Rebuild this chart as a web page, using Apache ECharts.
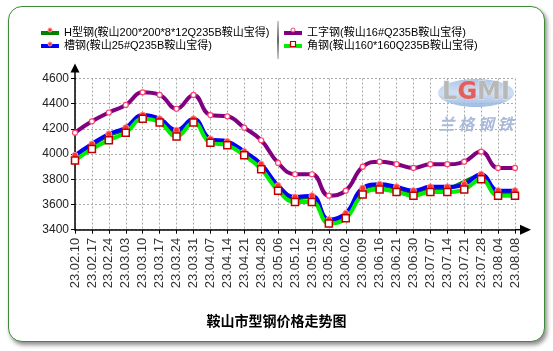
<!DOCTYPE html>
<html><head><meta charset="utf-8">
<script src="https://cdn.jsdelivr.net/npm/echarts@6/dist/echarts.min.js"></script>
<style>
html,body{margin:0;padding:0;background:#fff;width:553px;height:351px;overflow:hidden;}
#frame{position:absolute;left:8px;top:6px;width:535px;height:334px;border:1.5px solid #3d8b37;border-radius:14px;box-shadow:2px 3px 4px rgba(0,0,0,0.45);background:#fff;}
#chart{position:absolute;left:0;top:0;width:553px;height:351px;}
</style></head>
<body>
<div id="frame"></div>
<div id="chart"></div>
<script>
const categories = ['23.02.10','23.02.17','23.02.24','23.03.03','23.03.10','23.03.17','23.03.24','23.03.31','23.04.07','23.04.14','23.04.21','23.04.28','23.05.06','23.05.12','23.05.19','23.05.26','23.06.02','23.06.09','23.06.16','23.06.21','23.06.30','23.07.07','23.07.14','23.07.21','23.07.28','23.08.04','23.08.08'];
const seriesNames = ['H型钢(鞍山200*200*8*12Q235B鞍山宝得)','槽钢(鞍山25#Q235B鞍山宝得)','工字钢(鞍山16#Q235B鞍山宝得)','角钢(鞍山160*160Q235B鞍山宝得)'];
const hBeam   = [3970,4070,4150,4200,4300,4270,4180,4270,4110,4090,4010,3910,3740,3650,3660,3470,3520,3720,3750,3730,3700,3730,3730,3780,3830,3700,3700];
const channel = [3990,4080,4160,4210,4310,4280,4190,4280,4120,4100,4020,3920,3750,3660,3670,3480,3530,3730,3760,3740,3710,3740,3740,3760,3840,3710,3710];
const iBeam   = [4170,4260,4330,4390,4490,4470,4360,4470,4310,4300,4210,4110,3930,3840,3840,3670,3710,3900,3940,3920,3890,3920,3920,3940,4020,3890,3890];
const angle   = [3950,4040,4110,4170,4280,4250,4140,4250,4090,4070,3990,3880,3710,3620,3620,3450,3490,3680,3720,3700,3670,3700,3700,3720,3800,3670,3670];
const yTicks = {min:3400, max:4600, interval:200};

const FONT = '"Liberation Sans","Noto Sans CJK SC",sans-serif';
const lineColors = ['#008000','#0000ff','#800080','#00ee00'];
const chart = echarts.init(document.getElementById('chart'), null, {renderer:'canvas'});

function mk(i, data, symbol, size, fill, border, bw){
  return {
    name:seriesNames[i], type:'line', data, smooth:0.45,
    symbol, symbolSize:size, showSymbol:true,
    lineStyle:{color:lineColors[i], width:4},
    itemStyle:{color:fill, borderColor:border, borderWidth:bw},
    emphasis:{disabled:true}, animation:false
  };
}
function legendItem(i){
  return {name:seriesNames[i], icon:'rect', itemStyle:{color:lineColors[i], borderWidth:0}};
}
const legendText = {fontSize:11, color:'#000', fontFamily:FONT, lineHeight:14};

const option = {
  animation:false,
  backgroundColor:'transparent',
  title:{text:'鞍山市型钢价格走势图', left:'center', top:309,
    textStyle:{fontSize:14, fontWeight:'bold', color:'#000', fontFamily:'"Noto Sans CJK SC",sans-serif'}},
  legend:[
    {data:[legendItem(0), legendItem(1)], left:41, top:26, orient:'vertical', itemGap:-1, padding:0,
     itemWidth:18, itemHeight:4, textStyle:legendText},
    {data:[legendItem(2), legendItem(3)], left:284, top:26, orient:'vertical', itemGap:-1, padding:0,
     itemWidth:18, itemHeight:4, textStyle:legendText}
  ],
  grid:{left:75, right:38, top:78.5, bottom:121.3, containLabel:false},
  xAxis:{type:'category', data:categories, boundaryGap:false,
    axisLine:{show:true, lineStyle:{color:'#000', width:1.5}},
    axisTick:{show:true, length:4, lineStyle:{color:'#000'}},
    axisLabel:{rotate:90, fontSize:13, color:'#333', margin:8, fontFamily:FONT, interval:0},
    splitLine:{show:true, lineStyle:{color:'#aaa', type:[2,2], width:1}}},
  yAxis:{type:'value', min:yTicks.min, max:yTicks.max, interval:yTicks.interval,
    axisLine:{show:true, lineStyle:{color:'#000', width:1.5}},
    axisTick:{show:true, length:4, lineStyle:{color:'#000'}},
    axisLabel:{fontSize:12, color:'#222', margin:6, fontFamily:FONT, formatter:function(v){return String(v);}},
    splitLine:{show:true, lineStyle:{color:'#aaa', type:[2,2], width:1}}},
  series:[
    mk(0, hBeam, 'triangle', 6, '#ff2020', '#ff8080', 1),
    mk(1, channel, 'circle', 6, '#ff3030', '#ff9090', 1),
    mk(2, iBeam, 'circle', 5, '#ffffff', '#ff4070', 1.2),
    mk(3, angle, 'rect', 7, '#ffffff', '#c00000', 1.5)
  ]
};
chart.setOption(option);

const pO = chart.convertToPixel({gridIndex:0}, [0, yTicks.min]);
const pTop = chart.convertToPixel({gridIndex:0}, [0, yTicks.max]);
const pEnd = chart.convertToPixel({gridIndex:0}, [categories.length-1, yTicks.min]);
const ox = pO[0], oy = pO[1], ty = pTop[1], ex = pEnd[0];
chart.setOption({graphic:[
  {type:'line', shape:{x1:ox, y1:ty, x2:ox, y2:ty-8}, style:{stroke:'#000', lineWidth:1.5}, z:10},
  {type:'polygon', shape:{points:[[ox, ty-15],[ox-4.5, ty-6],[ox+4.5, ty-6]]}, style:{fill:'#000'}, z:10},
  {type:'line', shape:{x1:ex, y1:oy, x2:ex+6, y2:oy}, style:{stroke:'#000', lineWidth:1.5}, z:10},
  {type:'polygon', shape:{points:[[ex+16, oy],[ex+5, oy-5],[ex+5, oy+5]]}, style:{fill:'#000'}, z:10},
  {type:'line', shape:{x1:278, y1:21, x2:278, y2:59},
   style:{stroke:new echarts.graphic.LinearGradient(0,0,0,1,[{offset:0,color:'rgba(0,0,0,0.25)'},{offset:0.5,color:'#000'},{offset:1,color:'rgba(0,0,0,0.25)'}]), lineWidth:1.2}},
  {type:'circle', shape:{cx:50, cy:30, r:2}, style:{fill:'#ff3030', stroke:'#ff9090', lineWidth:1}, z:20},
  {type:'circle', shape:{cx:50, cy:44, r:2}, style:{fill:'#ff3030', stroke:'#ff9090', lineWidth:1}, z:20},
  {type:'circle', shape:{cx:293, cy:30, r:2}, style:{fill:'#ffffff', stroke:'#ff4070', lineWidth:1}, z:20},
  {type:'rect', shape:{x:290.5, y:41.5, width:5, height:5}, style:{fill:'#ffffff', stroke:'#c00000', lineWidth:1.2}, z:20},
  {type:'ellipse', shape:{cx:476, cy:93, rx:38, ry:14},
   style:{fill:new echarts.graphic.LinearGradient(0,0,0,1,[{offset:0,color:'#9fbde6'},{offset:0.5,color:'#c9daf2'},{offset:1,color:'#8fb0de'}]), opacity:0.85}, z:1},
  {type:'text', x:476, y:93, z:1,
   style:{text:'{a|L}{b|G}{a|MI}', align:'center', verticalAlign:'middle',
     rich:{a:{fontSize:24, fontWeight:'bold', fill:'#b8b8b8', stroke:'#e8e8e8', lineWidth:1, fontFamily:'"DejaVu Sans",sans-serif'},
           b:{fontSize:24, fontWeight:'bold', fill:'#e06060', stroke:'#f0c0c0', lineWidth:1, fontFamily:'"DejaVu Sans",sans-serif'}}}},
  {type:'text', x:476, y:124, z:1,
   style:{text:'兰 格 钢 铁', align:'center', verticalAlign:'middle', fontSize:16, fontWeight:'bold', fill:'#a9b9d9', fontFamily:'"Noto Sans CJK SC",sans-serif', fontStyle:'italic'}}
]});
</script>
</body></html>
